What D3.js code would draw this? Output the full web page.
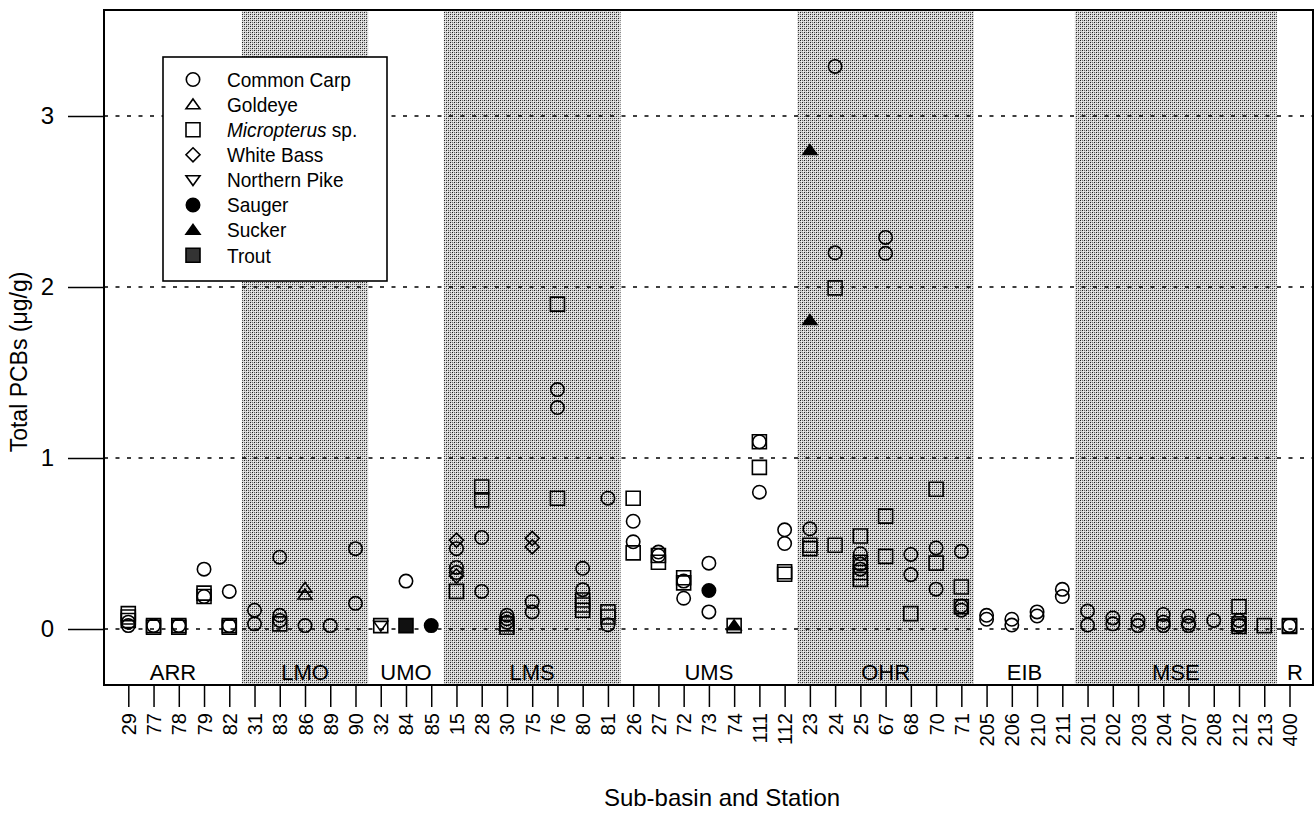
<!DOCTYPE html>
<html>
<head>
<meta charset="utf-8">
<script src="https://cdn.jsdelivr.net/npm/d3@7"></script>
<style>
  body { margin: 0; background: #fff; }
  text { font-family: "Liberation Sans Narrow", "Arial Narrow", "Liberation Sans", sans-serif; fill: #000; }
</style>
</head>
<body>
<div id="chart"></div>
<script>
  ////////////////////////
  // Data
  ////////////////////////
  var basins = [
    { name: 'ARR', stations: ['29', '77', '78', '79', '82'], shaded: false },
    { name: 'LMO', stations: ['31', '83', '86', '89', '90'], shaded: true },
    { name: 'UMO', stations: ['32', '84', '85'], shaded: false },
    { name: 'LMS', stations: ['15', '28', '30', '75', '76', '80', '81'], shaded: true },
    { name: 'UMS', stations: ['26', '27', '72', '73', '74', '111', '112'], shaded: false },
    { name: 'OHR', stations: ['23', '24', '25', '67', '68', '70', '71'], shaded: true },
    { name: 'EIB', stations: ['205', '206', '210', '211'], shaded: false },
    { name: 'MSE', stations: ['201', '202', '203', '204', '207', '208', '212', '213'], shaded: true },
    { name: 'R', stations: ['400'], shaded: false }
  ];

  var yTicks = [0, 1, 2, 3];

  // [station, total PCBs ug/g]
  var commonCarp = [
    ['29', 0.04], ['29', 0.02], ['77', 0.02], ['78', 0.02], ['79', 0.35], ['79', 0.19],
    ['82', 0.22], ['82', 0.02],
    ['31', 0.11], ['31', 0.03], ['83', 0.42], ['83', 0.08], ['83', 0.05], ['86', 0.02],
    ['89', 0.02], ['90', 0.47], ['90', 0.15],
    ['84', 0.28],
    ['15', 0.47], ['15', 0.36], ['15', 0.33], ['28', 0.535], ['28', 0.22],
    ['30', 0.08], ['30', 0.06], ['30', 0.04], ['75', 0.16], ['75', 0.10],
    ['76', 1.40], ['76', 1.295], ['80', 0.355], ['80', 0.23], ['81', 0.765], ['81', 0.025],
    ['26', 0.63], ['26', 0.51], ['27', 0.45], ['27', 0.43], ['72', 0.28], ['72', 0.18],
    ['73', 0.385], ['73', 0.10], ['111', 1.095], ['111', 0.80], ['112', 0.58], ['112', 0.50],
    ['23', 0.586], ['24', 3.29], ['24', 2.20], ['25', 0.44], ['25', 0.38], ['25', 0.35],
    ['67', 2.29], ['67', 2.197], ['68', 0.436], ['68', 0.318], ['70', 0.474], ['70', 0.233],
    ['71', 0.454], ['71', 0.134], ['71', 0.11],
    ['205', 0.08], ['205', 0.057], ['206', 0.057], ['206', 0.023], ['210', 0.10], ['210', 0.076],
    ['211', 0.232], ['211', 0.19],
    ['201', 0.105], ['201', 0.023], ['202', 0.065], ['202', 0.03], ['203', 0.05], ['203', 0.02],
    ['204', 0.085], ['204', 0.04], ['204', 0.02], ['207', 0.075], ['207', 0.035], ['207', 0.02],
    ['208', 0.05], ['212', 0.05], ['212', 0.02], ['400', 0.02]
  ];
  var goldeye = [['86', 0.24], ['86', 0.20]];
  var micropterus = [
    ['29', 0.09], ['29', 0.07], ['29', 0.05], ['77', 0.02], ['77', 0.01], ['78', 0.02], ['78', 0.01],
    ['79', 0.21], ['79', 0.19], ['82', 0.02], ['82', 0.01],
    ['83', 0.03], ['32', 0.02],
    ['15', 0.22], ['28', 0.83], ['28', 0.755], ['30', 0.03], ['30', 0.01],
    ['76', 1.90], ['76', 0.765], ['80', 0.17], ['80', 0.14], ['80', 0.11], ['81', 0.10], ['81', 0.07],
    ['26', 0.765], ['26', 0.445], ['27', 0.43], ['27', 0.39], ['72', 0.30], ['72', 0.27],
    ['74', 0.02], ['111', 1.095], ['111', 0.945], ['112', 0.335], ['112', 0.32],
    ['23', 0.49], ['23', 0.47], ['24', 1.995], ['24', 0.49],
    ['25', 0.544], ['25', 0.39], ['25', 0.33], ['25', 0.29], ['67', 0.66], ['67', 0.425],
    ['68', 0.09], ['70', 0.817], ['70', 0.385], ['71', 0.246], ['71', 0.13],
    ['212', 0.13], ['212', 0.03], ['212', 0.015], ['213', 0.02], ['400', 0.02], ['400', 0.015]
  ];
  var whiteBass = [['15', 0.52], ['15', 0.31], ['75', 0.53], ['75', 0.48]];
  var northernPike = [['32', 0.02]];
  var sauger = [['85', 0.02], ['73', 0.225]];
  var sucker = [['74', 0.02], ['23', 2.80], ['23', 1.805]];
  var trout = [['84', 0.02]];

  ////////////////////////
  // Layout
  ////////////////////////
  var w = 1316,
    h = 815;
  var frame = { left: 104, right: 1313, top: 10, bottom: 685 };

  var stations = [];
  basins.forEach(function(b) { stations = stations.concat(b.stations); });

  var x = d3.scalePoint()
    .domain(stations)
    .range([128.3, 1289.5]);

  var y = d3.scaleLinear()
    .domain([0, 3])
    .range([629, 116]);

  var svg = d3.select('#chart')
    .append('svg')
    .attr('width', w)
    .attr('height', h);

  // halftone-ish dot fill for the shaded sub-basins
  var defs = svg.append('defs');
  var pat = defs.append('pattern')
    .attr('id', 'stipple')
    .attr('patternUnits', 'userSpaceOnUse')
    .attr('width', 4)
    .attr('height', 4);
  pat.append('rect').attr('width', 4).attr('height', 4).attr('fill', '#d6d6d6');
  pat.append('rect').attr('x', 0).attr('y', 0).attr('width', 1).attr('height', 1).attr('fill', '#1e1e1e');
  pat.append('rect').attr('x', 2).attr('y', 2).attr('width', 1).attr('height', 1).attr('fill', '#1e1e1e');
  pat.append('rect').attr('x', 2).attr('y', 0).attr('width', 1).attr('height', 1).attr('fill', '#6e6e6e');
  pat.append('rect').attr('x', 0).attr('y', 2).attr('width', 1).attr('height', 1).attr('fill', '#6e6e6e');
  pat.append('rect').attr('x', 1).attr('y', 1).attr('width', 1).attr('height', 1).attr('fill', '#f4f4f4');
  pat.append('rect').attr('x', 3).attr('y', 3).attr('width', 1).attr('height', 1).attr('fill', '#f4f4f4');

  ////////////////////////
  // Sub-basin bands
  ////////////////////////
  var step = x.step();
  basins.forEach(function(b, i) {
    var first = b.stations[0], last = b.stations[b.stations.length - 1];
    b.x0 = i === 0 ? frame.left : x(first) - step / 2;
    b.x1 = i === basins.length - 1 ? frame.right : x(last) + step / 2;
  });

  svg.append('g')
    .attr('class', 'bands')
    .selectAll('rect')
    .data(basins.filter(function(b) { return b.shaded; }))
    .enter().append('rect')
    .attr('x', function(d) { return d.x0; })
    .attr('y', frame.top + 1)
    .attr('width', function(d) { return d.x1 - d.x0; })
    .attr('height', frame.bottom - frame.top - 1)
    .attr('fill', 'url(#stipple)');

  svg.append('g')
    .attr('class', 'basin-labels')
    .selectAll('text')
    .data(basins)
    .enter().append('text')
    .attr('x', function(d) { return (d.x0 + d.x1) / 2; })
    .attr('y', 680)
    .attr('text-anchor', 'middle')
    .style('font-size', '22px')
    .text(function(d) { return d.name; });

  ////////////////////////
  // Gridlines and axes
  ////////////////////////
  svg.append('g')
    .selectAll('line')
    .data(yTicks)
    .enter().append('line')
    .attr('x1', frame.left)
    .attr('x2', frame.right)
    .attr('y1', function(d) { return y(d); })
    .attr('y2', function(d) { return y(d); })
    .attr('stroke', '#000')
    .attr('stroke-width', 1.6)
    .attr('stroke-dasharray', '4,7.5');

  var yAxis = svg.append('g')
    .attr('transform', 'translate(' + frame.left + ',0)')
    .call(d3.axisLeft(y).tickValues(yTicks).tickSize(36).tickPadding(14).tickFormat(d3.format('d')));
  yAxis.select('.domain').remove();
  yAxis.selectAll('.tick line').attr('stroke-width', 1.3);
  yAxis.selectAll('.tick text')
    .style('font-size', '24px')
    .style('font-family', '"Liberation Sans Narrow", "Arial Narrow", "Liberation Sans", sans-serif');

  var xAxis = svg.append('g')
    .attr('transform', 'translate(0,' + frame.bottom + ')')
    .call(d3.axisBottom(x).tickSize(22).tickPadding(6));
  xAxis.select('.domain').remove();
  xAxis.selectAll('.tick line').attr('stroke-width', 1.5);
  xAxis.selectAll('.tick text')
    .attr('transform', 'rotate(-90)')
    .attr('x', -28)
    .attr('y', 0)
    .attr('dy', '0.35em')
    .attr('text-anchor', 'end')
    .style('font-size', '20px')
    .style('font-family', '"Liberation Sans Narrow", "Arial Narrow", "Liberation Sans", sans-serif');

  svg.append('rect')
    .attr('x', frame.left)
    .attr('y', frame.top)
    .attr('width', frame.right - frame.left)
    .attr('height', frame.bottom - frame.top)
    .attr('fill', 'none')
    .attr('stroke', '#000')
    .attr('stroke-width', 2);

  svg.append('text')
    .attr('transform', 'translate(27,362) rotate(-90)')
    .attr('text-anchor', 'middle')
    .style('font-size', '23px')
    .text('Total PCBs (\u03bcg/g)');

  svg.append('text')
    .attr('x', 722)
    .attr('y', 806)
    .attr('text-anchor', 'middle')
    .style('font-size', '24px')
    .text('Sub-basin and Station');

  ////////////////////////
  // Marker shapes
  ////////////////////////
  var shapes = {
    circle: { draw: function(c, r) { c.moveTo(r, 0); c.arc(0, 0, r, 0, 2 * Math.PI); } },
    square: { draw: function(c, r) { c.rect(-r, -r, 2 * r, 2 * r); } },
    diamond: { draw: function(c, r) { c.moveTo(0, -r); c.lineTo(r, 0); c.lineTo(0, r); c.lineTo(-r, 0); c.closePath(); } },
    triUp: { draw: function(c, r) { c.moveTo(0, -r * 0.8); c.lineTo(r, r * 0.6); c.lineTo(-r, r * 0.6); c.closePath(); } },
    triDown: { draw: function(c, r) { c.moveTo(0, r * 0.8); c.lineTo(r, -r * 0.6); c.lineTo(-r, -r * 0.6); c.closePath(); } }
  };

  var species = [
    { label: 'Common Carp', data: commonCarp, shape: 'circle', r: 6.7, fill: 'none' },
    { label: 'Goldeye', data: goldeye, shape: 'triUp', r: 7, fill: 'none' },
    { label: 'Micropterus', italic: true, data: micropterus, shape: 'square', r: 7, fill: 'none' },
    { label: 'White Bass', data: whiteBass, shape: 'diamond', r: 7, fill: 'none' },
    { label: 'Northern Pike', data: northernPike, shape: 'triDown', r: 7, fill: 'none' },
    { label: 'Sauger', data: sauger, shape: 'circle', r: 6.7, fill: '#000' },
    { label: 'Sucker', data: sucker, shape: 'triUp', r: 7, fill: '#000' },
    { label: 'Trout', data: trout, shape: 'square', r: 7, fill: '#111' }
  ];

  function symbolPath(s) {
    return d3.symbol().type(shapes[s.shape]).size(s.r)();
  }

  ////////////////////////
  // Points
  ////////////////////////
  var pointGroup = svg.append('g').attr('class', 'points');
  species.forEach(function(s) {
    pointGroup.append('g')
      .selectAll('path')
      .data(s.data)
      .enter().append('path')
      .attr('d', symbolPath(s))
      .attr('transform', function(d) { return 'translate(' + x(d[0]) + ',' + y(d[1]) + ')'; })
      .attr('fill', s.fill)
      .attr('stroke', '#000')
      .attr('stroke-width', 1.6);
  });

  ////////////////////////
  // Legend
  ////////////////////////
  var legend = svg.append('g').attr('class', 'legend');
  legend.append('rect')
    .attr('x', 163)
    .attr('y', 57)
    .attr('width', 224)
    .attr('height', 224)
    .attr('fill', '#fff')
    .attr('stroke', '#000')
    .attr('stroke-width', 1.6);

  var rows = legend.selectAll('g.row')
    .data(species)
    .enter().append('g')
    .attr('class', 'row')
    .attr('transform', function(d, i) { return 'translate(193,' + (79.5 + i * 25.1) + ')'; });

  rows.append('path')
    .attr('d', function(d) { return symbolPath(d); })
    .attr('fill', function(d) { return d.fill === 'none' ? 'none' : (d.label === 'Trout' ? '#333' : '#000'); })
    .attr('stroke', '#000')
    .attr('stroke-width', 1.6);

  // slightly condensed, like the original typeface
  var labels = rows.append('text')
    .attr('transform', 'translate(34,0) scale(0.93,1)')
    .attr('dy', '0.36em')
    .style('font-size', '20.5px');
  labels.append('tspan')
    .style('font-style', function(d) { return d.italic ? 'italic' : 'normal'; })
    .text(function(d) { return d.label; });
  labels.filter(function(d) { return d.italic; })
    .append('tspan')
    .text(' sp.');
</script>
</body>
</html>
